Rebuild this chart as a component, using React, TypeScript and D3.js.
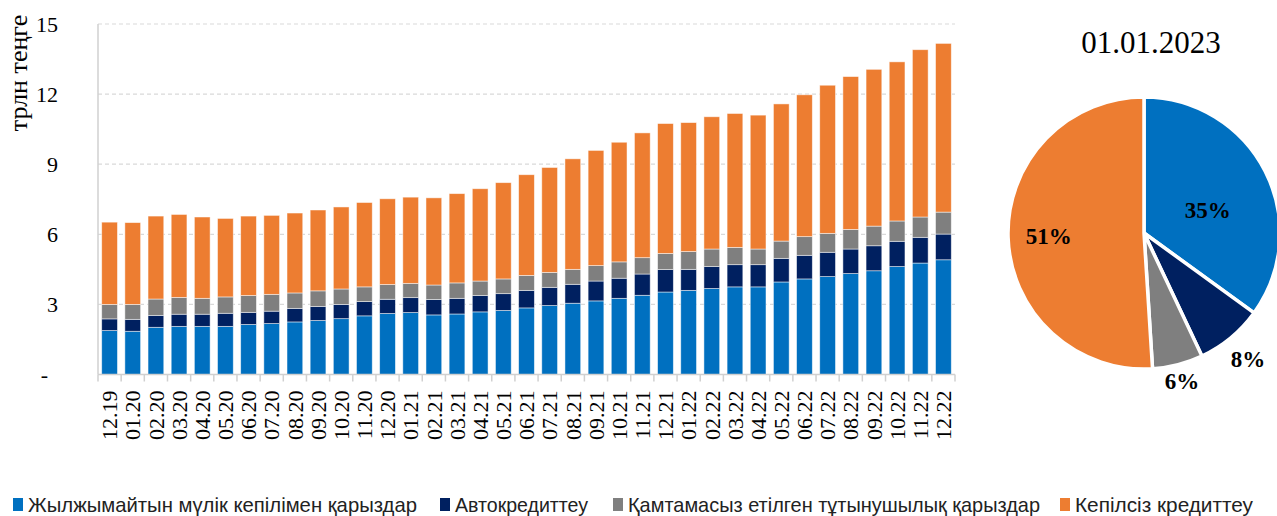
import { useRef, useEffect } from "react";
import * as d3 from "d3";

const months = [
  "12.19",
  "01.20", "02.20", "03.20", "04.20", "05.20", "06.20", "07.20", "08.20", "09.20", "10.20", "11.20", "12.20",
  "01.21", "02.21", "03.21", "04.21", "05.21", "06.21", "07.21", "08.21", "09.21", "10.21", "11.21", "12.21",
  "01.22", "02.22", "03.22", "04.22", "05.22", "06.22", "07.22", "08.22", "09.22", "10.22", "11.22", "12.22",
];

// трлн теңге
const realEstate = [
  1.88, 1.85, 2.02, 2.06, 2.06, 2.06, 2.14, 2.18, 2.25, 2.31, 2.39, 2.51, 2.61,
  2.65, 2.55, 2.59, 2.68, 2.74, 2.85, 2.95, 3.05, 3.15, 3.26, 3.39, 3.53,
  3.6, 3.68, 3.75, 3.75, 3.96, 4.09, 4.19, 4.32, 4.44, 4.62, 4.77, 4.91,
];
const autoLoans = [
  0.5, 0.51, 0.51, 0.52, 0.52, 0.56, 0.52, 0.53, 0.58, 0.6, 0.61, 0.61, 0.61,
  0.64, 0.66, 0.67, 0.7, 0.72, 0.75, 0.78, 0.81, 0.85, 0.86, 0.91, 0.96,
  0.9, 0.94, 0.95, 0.95, 1.01, 1.01, 1.04, 1.05, 1.07, 1.08, 1.1, 1.1,
];
const securedConsumer = [
  0.62, 0.64, 0.7, 0.72, 0.68, 0.7, 0.72, 0.72, 0.66, 0.67, 0.66, 0.63, 0.63,
  0.61, 0.62, 0.66, 0.62, 0.63, 0.64, 0.64, 0.64, 0.66, 0.7, 0.7, 0.69,
  0.76, 0.75, 0.74, 0.67, 0.74, 0.8, 0.81, 0.84, 0.84, 0.87, 0.87, 0.94,
];
const unsecured = [
  3.52, 3.5, 3.55, 3.55, 3.48, 3.36, 3.4, 3.38, 3.42, 3.46, 3.51, 3.61, 3.67,
  3.69, 3.73, 3.82, 3.95, 4.12, 4.31, 4.49, 4.73, 4.93, 5.12, 5.34, 5.56,
  5.52, 5.66, 5.73, 5.73, 5.87, 6.07, 6.34, 6.54, 6.71, 6.81, 7.16, 7.22,
];

const seriesKeys = ["realEstate", "autoLoans", "securedConsumer", "unsecured"];
const seriesNames = [
  "Жылжымайтын мүлік кепілімен қарыздар",
  "Автокредиттеу",
  "Қамтамасыз етілген тұтынушылық қарыздар",
  "Кепілсіз кредиттеу",
];
const seriesColors = ["#0070C0", "#002060", "#7F7F7F", "#ED7D31"];
const yTicks = [0, 3, 6, 9, 12, 15];

const pieTitle = "01.01.2023";
const pieShares = [35, 8, 6, 51];

const SERIF = "'Liberation Serif', 'Times New Roman', serif";
const SANS = "'Liberation Sans Narrow', 'Liberation Sans', Arial, sans-serif";

export default function App() {
  const svgRef = useRef<SVGSVGElement>(null);

  useEffect(() => {
    if (!svgRef.current) return;
    const svg = d3.select(svgRef.current);
    svg.selectAll("*").remove();

    const width = 1277;
    const height = 516;
    svg.attr("width", width).attr("height", height);

    const left = 98;
    const right = 955;
    const top = 24;
    const bottom = 374.5;

    const rows = months.map((m, i) => ({
      month: m,
      realEstate: realEstate[i],
      autoLoans: autoLoans[i],
      securedConsumer: securedConsumer[i],
      unsecured: unsecured[i],
    }));

    const x = d3.scaleBand<string>()
      .domain(months)
      .range([left, right])
      .paddingInner(0.32)
      .paddingOuter(0.16);

    const y = d3.scaleLinear().domain([0, 15]).range([bottom, top]);

    // gridlines
    svg.append("g")
      .selectAll("line")
      .data(yTicks.filter((t) => t > 0))
      .join("line")
      .attr("x1", left)
      .attr("x2", right)
      .attr("y1", (d) => y(d))
      .attr("y2", (d) => y(d))
      .attr("stroke", "#d9d9d9")
      .attr("stroke-width", 1.2)
      .attr("stroke-dasharray", "4,3");

    // stacked bars
    const stacked = d3.stack<any>().keys(seriesKeys)(rows);
    svg.append("g")
      .selectAll("g")
      .data(stacked)
      .join("g")
      .attr("fill", (_d, i) => seriesColors[i])
      .selectAll("rect")
      .data((d) => d)
      .join("rect")
      .attr("x", (d) => x(d.data.month) ?? 0)
      .attr("y", (d) => y(d[1]))
      .attr("width", x.bandwidth())
      .attr("height", (d) => y(d[0]) - y(d[1]))
      .attr("stroke", "#ffffff")
      .attr("stroke-opacity", 0.6)
      .attr("stroke-width", 0.8);

    // axes lines
    svg.append("line")
      .attr("x1", left).attr("x2", left)
      .attr("y1", top).attr("y2", bottom)
      .attr("stroke", "#d0d0d0").attr("stroke-width", 1.5);
    svg.append("line")
      .attr("x1", left).attr("x2", right)
      .attr("y1", bottom).attr("y2", bottom)
      .attr("stroke", "#d0d0d0").attr("stroke-width", 1.5);

    const gap = (x.step() - x.bandwidth()) / 2;
    const boundaries = months.map((m) => (x(m) ?? 0) - gap);
    boundaries.push((x(months[months.length - 1]) ?? 0) + x.bandwidth() + gap);
    svg.append("g")
      .selectAll("line")
      .data(boundaries)
      .join("line")
      .attr("x1", (d) => d).attr("x2", (d) => d)
      .attr("y1", bottom).attr("y2", bottom + 7)
      .attr("stroke", "#d0d0d0").attr("stroke-width", 1.5);

    // x labels
    svg.append("g")
      .selectAll("text")
      .data(months)
      .join("text")
      .attr("transform", (d) => `translate(${(x(d) ?? 0) + x.bandwidth() / 2},${bottom + 16}) rotate(-90)`)
      .attr("dy", "0.35em")
      .attr("text-anchor", "end")
      .attr("font-family", SERIF)
      .attr("font-size", 22)
      .attr("fill", "#000")
      .text((d) => d);

    // y labels
    svg.append("g")
      .selectAll("text")
      .data(yTicks)
      .join("text")
      .attr("x", (d) => (d === 0 ? 48 : 58))
      .attr("y", (d) => y(d))
      .attr("dy", "0.35em")
      .attr("text-anchor", "end")
      .attr("font-family", SERIF)
      .attr("font-size", 22)
      .attr("fill", "#000")
      .text((d) => (d === 0 ? "-" : String(d)));

    svg.append("text")
      .attr("transform", "translate(27,73) rotate(-90)")
      .attr("text-anchor", "middle")
      .attr("font-family", SERIF)
      .attr("font-size", 26)
      .attr("fill", "#000")
      .text("трлн теңге");

    // pie
    const cx = 1144;
    const cy = 233;
    const r = 136;
    const pie = d3.pie<number>().sort(null).value((d) => d);
    const arcs = pie(pieShares);
    const arc = d3.arc<d3.PieArcDatum<number>>().innerRadius(0).outerRadius(r);
    const pg = svg.append("g").attr("transform", `translate(${cx},${cy})`);
    pg.selectAll("path")
      .data(arcs)
      .join("path")
      .attr("d", arc)
      .attr("fill", (_d, i) => seriesColors[i])
      .attr("stroke", "#fff")
      .attr("stroke-width", 3.5);

    // label placement: radius factor and angle nudge per slice
    const labelR = [0.5, 1.2, 1.12, 0.7];
    const labelNudge = [0.12, 0, 0, 0];
    pg.selectAll("text")
      .data(arcs)
      .join("text")
      .attr("transform", (d, i) => {
        const a = (d.startAngle + d.endAngle) / 2 + labelNudge[i];
        const rr = r * labelR[i];
        return `translate(${Math.sin(a) * rr},${-Math.cos(a) * rr})`;
      })
      .attr("dy", "0.35em")
      .attr("text-anchor", "middle")
      .attr("font-family", SERIF)
      .attr("font-weight", "bold")
      .attr("font-size", 23)
      .attr("fill", "#000")
      .text((d) => `${d.data}%`);

    svg.append("text")
      .attr("x", 1151)
      .attr("y", 53)
      .attr("text-anchor", "middle")
      .attr("font-family", SERIF)
      .attr("font-size", 31)
      .attr("fill", "#000")
      .text(pieTitle);

    // legend
    const legendX = [13, 440, 613, 1060];
    const legendW = [389, 133, 412, 178];
    const lg = svg.append("g")
      .selectAll("g")
      .data(seriesNames)
      .join("g")
      .attr("transform", (_d, i) => `translate(${legendX[i]},497)`);
    lg.append("rect")
      .attr("width", 10)
      .attr("height", 13)
      .attr("y", 1)
      .attr("fill", (_d, i) => seriesColors[i]);
    lg.append("text")
      .attr("x", 15)
      .attr("y", 15)
      .attr("font-family", SANS)
      .attr("font-size", 21)
      .attr("fill", "#222")
      .attr("textLength", (_d, i) => legendW[i])
      .attr("lengthAdjust", "spacingAndGlyphs")
      .text((d) => d);
  }, []);

  return (
    <svg
      ref={svgRef}
      style={{ position: "absolute", left: 0, top: 0, background: "#fff" }}
    />
  );
}
